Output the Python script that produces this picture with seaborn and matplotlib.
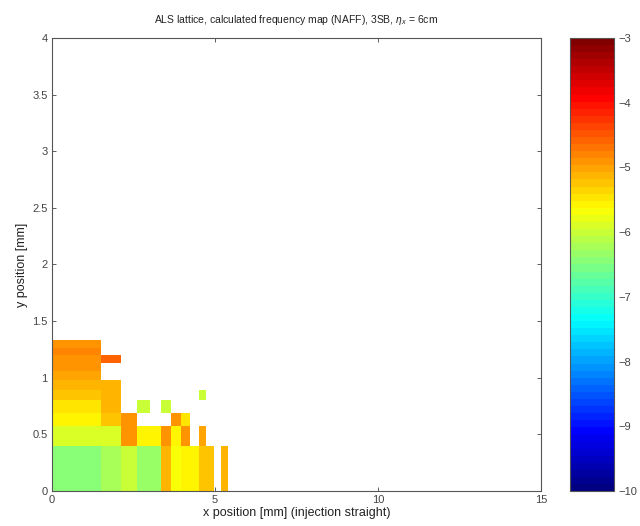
import numpy as np
import matplotlib
matplotlib.use("Agg")
import matplotlib.pyplot as plt
from matplotlib.colors import ListedColormap
import seaborn as sns

nan = np.nan

# edges of the tracked initial-condition grid [mm]
X_EDGES = [0.0, 1.5, 2.12, 2.6, 3.0, 3.35, 3.67, 3.97, 4.24, 4.5, 4.74, 4.97, 5.2, 5.41]
Y_EDGES = [0.0, 0.4, 0.57, 0.69, 0.8, 0.89, 0.98, 1.06, 1.13, 1.2, 1.26, 1.33]

# log10 of tune diffusion, one list per row (bottom -> top), nan = lost particle
ROW_00 = [-6.45, -6.2, -6.05, -6.3, -6.3, -5.1, -5.7, -5.6, -5.6, -5.25, -5.2, nan, -5.1]
ROW_01 = [-5.95, -5.95, -4.95, -5.6, -5.6, -4.95, -5.6, -4.95, nan, -5.0, nan, nan, nan]
ROW_02 = [-5.6, -5.2, -4.95, nan, nan, nan, -4.95, -5.5, nan, nan, nan, nan, nan]
ROW_03 = [-5.45, -5.15, nan, -6.05, nan, -6.05, nan, nan, nan, nan, nan, nan, nan]
ROW_04 = [-5.24, -5.15, nan, nan, nan, nan, nan, nan, nan, -6.05, nan, nan, nan]
ROW_05 = [-5.1, -5.15, nan, nan, nan, nan, nan, nan, nan, nan, nan, nan, nan]
ROW_06 = [-5.0, nan, nan, nan, nan, nan, nan, nan, nan, nan, nan, nan, nan]
ROW_07 = [-4.88, nan, nan, nan, nan, nan, nan, nan, nan, nan, nan, nan, nan]
ROW_08 = [-4.92, -4.6, nan, nan, nan, nan, nan, nan, nan, nan, nan, nan, nan]
ROW_09 = [-4.84, nan, nan, nan, nan, nan, nan, nan, nan, nan, nan, nan, nan]
ROW_10 = [-4.92, nan, nan, nan, nan, nan, nan, nan, nan, nan, nan, nan, nan]

X_TICKS = [0, 5, 10, 15]
Y_TICKS = [0, 0.5, 1, 1.5, 2, 2.5, 3, 3.5, 4]
Y_TICK_LABELS = ["0", "0.5", "1", "1.5", "2", "2.5", "3", "3.5", "4"]
CBAR_TICKS = [-10, -9, -8, -7, -6, -5, -4, -3]

TITLE = r"ALS lattice, calculated frequency map (NAFF), 3SB, $\eta_x$ = 6cm"
XLABEL = "x position [mm] (injection straight)"
YLABEL = "y position [mm]"


def matlab_jet(n=64):
    """Old-style MATLAB jet colormap (slightly different from matplotlib's)."""
    t = np.linspace(0, 1, n)
    r = np.clip(1.5 - np.abs(4 * t - 3), 0, 1)
    g = np.clip(1.5 - np.abs(4 * t - 2), 0, 1)
    b = np.clip(1.5 - np.abs(4 * t - 1), 0, 1)
    return ListedColormap(np.column_stack([r, g, b]))


def main():
    sns.set_theme(style="ticks")
    plt.rcParams["font.family"] = ["Liberation Sans", "DejaVu Sans"]
    plt.rcParams["mathtext.fontset"] = "custom"
    plt.rcParams["mathtext.rm"] = "Liberation Sans"
    plt.rcParams["mathtext.it"] = "Liberation Sans:italic"

    values = np.array([ROW_00, ROW_01, ROW_02, ROW_03, ROW_04, ROW_05,
                       ROW_06, ROW_07, ROW_08, ROW_09, ROW_10])

    fig = plt.figure(figsize=(6.4, 5.26), dpi=100)
    ax = fig.add_axes([0.081, 0.0665, 0.764, 0.8615])
    cax = fig.add_axes([0.891, 0.0665, 0.068, 0.8615])

    mesh = ax.pcolormesh(X_EDGES, Y_EDGES, np.ma.masked_invalid(values),
                         cmap=matlab_jet(64), vmin=-10, vmax=-3, shading="flat")

    ax.set_xlim(0, 15)
    ax.set_ylim(0, 4)
    ax.set_xticks(X_TICKS)
    ax.set_yticks(Y_TICKS)
    ax.set_yticklabels(Y_TICK_LABELS)
    ax.tick_params(direction="in", top=True, right=True, labelsize=8,
                   length=3, width=0.6, colors="#444444", pad=3)
    for s in ax.spines.values():
        s.set_linewidth(0.8)
        s.set_color("#555555")
    ax.set_facecolor("white")

    ax.set_title(TITLE, fontsize=7.5, pad=11, color="#222222")
    ax.set_xlabel(XLABEL, fontsize=9, labelpad=1, color="#222222")
    ax.set_ylabel(YLABEL, fontsize=9, labelpad=3, color="#222222")

    cb = fig.colorbar(mesh, cax=cax)
    cb.set_ticks(CBAR_TICKS)
    cax.tick_params(direction="in", left=True, right=True, labelsize=8,
                    length=3, width=0.6, colors="#444444", pad=3)
    cb.outline.set_linewidth(0.8)
    cb.outline.set_edgecolor("#555555")

    fig.savefig("out.png", dpi=100)
    plt.close(fig)


if __name__ == "__main__":
    main()
